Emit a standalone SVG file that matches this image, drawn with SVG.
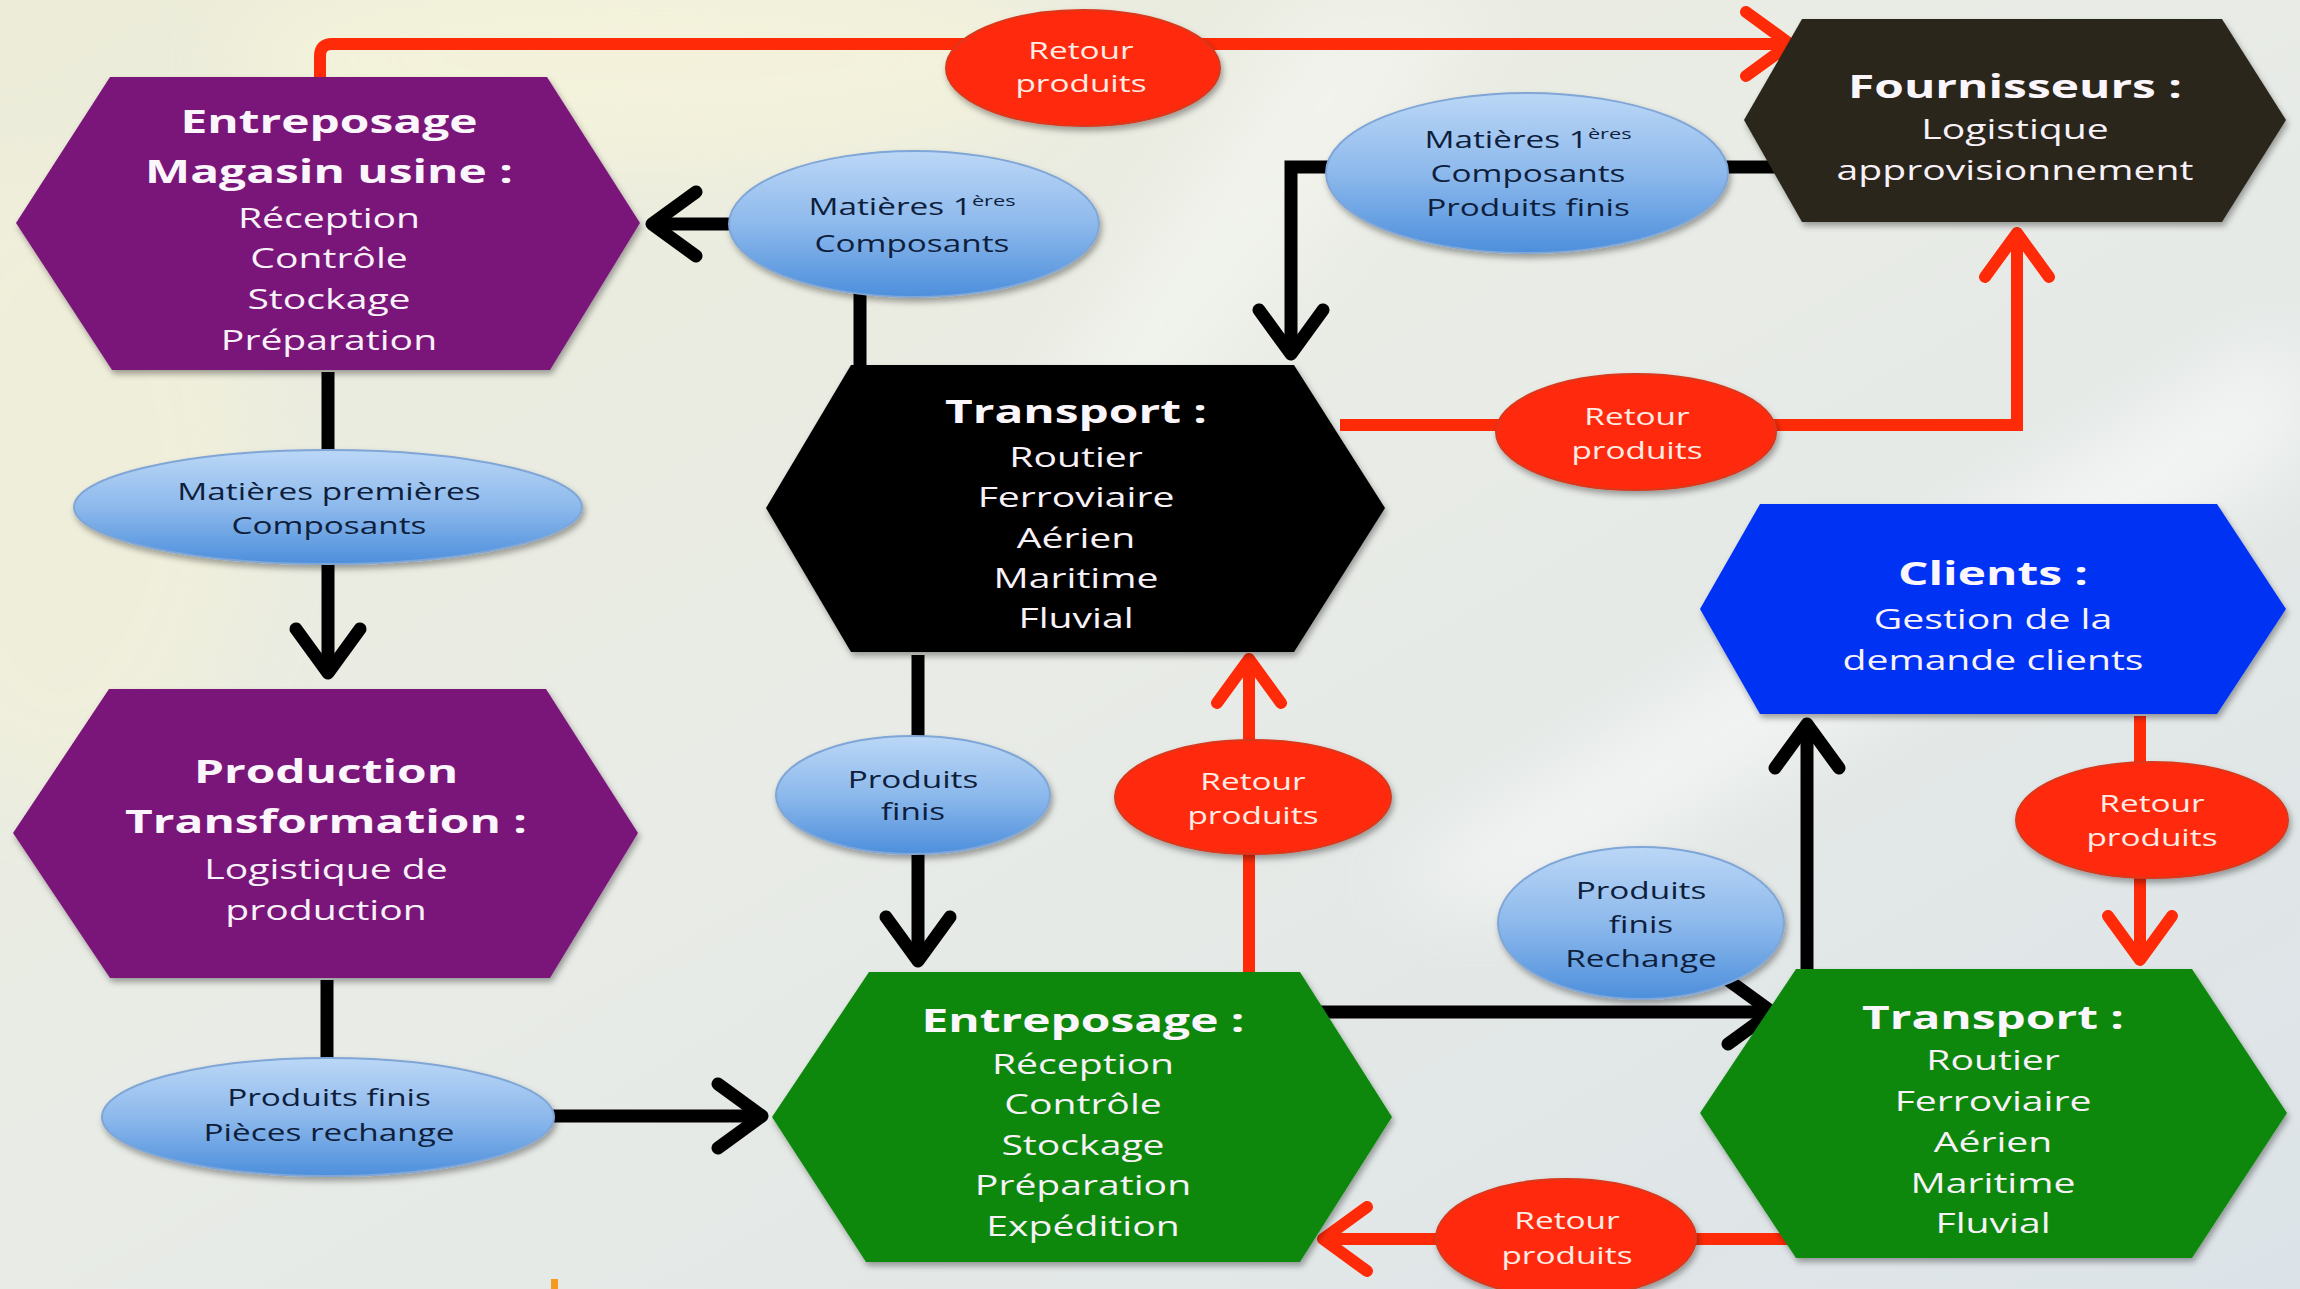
<svg xmlns="http://www.w3.org/2000/svg" width="2300" height="1289" viewBox="0 0 2300 1289">
<defs>
<linearGradient id="bg" x1="0" y1="0" x2="1" y2="1">
<stop offset="0" stop-color="#ECECD8"/>
<stop offset="0.45" stop-color="#E9ECE6"/>
<stop offset="1" stop-color="#DCE3E8"/>
</linearGradient>
<linearGradient id="blueFill" x1="0" y1="0" x2="0" y2="1">
<stop offset="0" stop-color="#BBD7F6"/>
<stop offset="0.5" stop-color="#8DB9EC"/>
<stop offset="1" stop-color="#4D8FDC"/>
</linearGradient>
<filter id="blur40" x="-50%" y="-50%" width="200%" height="200%"><feGaussianBlur stdDeviation="40"/></filter>
<filter id="shadow" x="-20%" y="-20%" width="140%" height="150%"><feDropShadow dx="2" dy="4" stdDeviation="3" flood-color="#000" flood-opacity="0.35"/></filter>
<marker id="arrK" viewBox="-60 -45 75 90" markerUnits="userSpaceOnUse" markerWidth="75" markerHeight="90" refX="0" refY="0" orient="auto" overflow="visible">
<path d="M-44 -32 L0 0 L-44 32" fill="none" stroke="#000" stroke-width="13" stroke-linecap="round" stroke-linejoin="round"/>
</marker>
<marker id="arrR" viewBox="-60 -45 75 90" markerUnits="userSpaceOnUse" markerWidth="75" markerHeight="90" refX="0" refY="0" orient="auto" overflow="visible">
<path d="M-44 -32 L0 0 L-44 32" fill="none" stroke="#FF2A08" stroke-width="12" stroke-linecap="round" stroke-linejoin="round"/>
</marker>
</defs>
<style>
.k{fill:none;stroke:#000;stroke-width:13;marker-end:url(#arrK)}
.r{fill:none;stroke:#FF2A08;stroke-width:12;marker-end:url(#arrR)}
.hex{filter:url(#shadow)}
.ttl{font-family:"Open Sans","Liberation Sans",sans-serif;font-weight:bold;font-size:33px;fill:#FBF6FB;text-anchor:middle}
.bd{font-family:"Open Sans","Liberation Sans",sans-serif;font-size:27px;fill:#F8F2F8;text-anchor:middle}
.eb{fill:url(#blueFill);stroke:#7FA6D6;stroke-width:2;filter:url(#shadow)}
.er{fill:#FF2C0A;stroke:#D8381E;stroke-width:2;filter:url(#shadow)}
.et{font-family:"Open Sans","Liberation Sans",sans-serif;font-size:23px;fill:#0E1E3C;text-anchor:middle}
.rt{font-family:"Open Sans","Liberation Sans",sans-serif;font-size:23px;fill:#FFEDE6;text-anchor:middle}
.sup{font-size:15px}
</style>

<g id="background">
<rect x="0" y="0" width="2300" height="1289" fill="url(#bg)"/>
<ellipse cx="650" cy="60" rx="420" ry="110" fill="#F7F4DA" opacity="0.7" filter="url(#blur40)"/>
<ellipse cx="60" cy="480" rx="200" ry="320" fill="#F2F0DA" opacity="0.7" filter="url(#blur40)"/>
<polygon points="2300,330 2300,450 1520,900 1380,890" fill="#FFFFFF" opacity="0.6" filter="url(#blur40)"/>
<polygon points="1300,0 1500,0 1100,500 1000,480" fill="#FFFFFF" opacity="0.35" filter="url(#blur40)"/>
<rect x="551" y="1279" width="7" height="10" fill="#F59A1E"/>
</g>

<g id="connectors">
<path class="r" d="M320 80 V56 Q320 44 332 44 H1790"/>
<path class="k" d="M860 366 V224 H652"/>
<path class="k" d="M1780 167 H1291 V354"/>
<path class="r" d="M1340 425 H2017 V233"/>
<path class="k" d="M328 372 V673"/>
<path class="k" d="M918 655 V961"/>
<path class="r" d="M1249 974 V659"/>
<path class="k" d="M327 980 V1116 H762"/>
<path class="k" d="M1320 1012 H1772"/>
<path class="k" d="M1807 970 V724"/>
<path class="r" d="M2140 716 V960"/>
<path class="r" d="M1790 1239 H1323"/>
</g>

<g id="n-entreposage-usine">
<polygon class="hex" points="110,77 547,77 640,223 550,370 112,370 16,223" fill="#7A197A"/>
<g transform="translate(329 0) scale(1.45 1)">
<text class="ttl" x="0" y="133">Entreposage</text>
<text class="ttl" x="0" y="183">Magasin usine :</text>
<text class="bd" x="0" y="228">Réception</text>
<text class="bd" x="0" y="268">Contrôle</text>
<text class="bd" x="0" y="309">Stockage</text>
<text class="bd" x="0" y="350">Préparation</text>
</g>
</g>

<g id="n-fournisseurs">
<polygon class="hex" points="1802,19 2222,19 2286,120 2222,222 1802,222 1744,120" fill="#2A281D"/>
<g transform="translate(2015 0) scale(1.45 1)">
<text class="ttl" x="0" y="98">Fournisseurs :</text>
<text class="bd" x="0" y="139">Logistique</text>
<text class="bd" x="0" y="180">approvisionnement</text>
</g>
</g>

<g id="n-transport-1">
<polygon class="hex" points="851,365 1294,365 1385,508 1294,652 851,652 766,508" fill="#000000"/>
<g transform="translate(1076 0) scale(1.45 1)">
<text class="ttl" x="0" y="423">Transport :</text>
<text class="bd" x="0" y="467">Routier</text>
<text class="bd" x="0" y="507">Ferroviaire</text>
<text class="bd" x="0" y="548">Aérien</text>
<text class="bd" x="0" y="588">Maritime</text>
<text class="bd" x="0" y="628">Fluvial</text>
</g>
</g>

<g id="n-clients">
<polygon class="hex" points="1760,504 2217,504 2286,609 2217,714 1760,714 1700,609" fill="#0633F4"/>
<g transform="translate(1993 0) scale(1.45 1)">
<text class="ttl" x="0" y="585">Clients :</text>
<text class="bd" x="0" y="629">Gestion de la</text>
<text class="bd" x="0" y="670">demande clients</text>
</g>
</g>

<g id="n-production">
<polygon class="hex" points="109,689 546,689 638,833 550,978 110,978 13,833" fill="#7A197A"/>
<g transform="translate(326 0) scale(1.45 1)">
<text class="ttl" x="0" y="783">Production</text>
<text class="ttl" x="0" y="833">Transformation :</text>
<text class="bd" x="0" y="879">Logistique de</text>
<text class="bd" x="0" y="920">production</text>
</g>
</g>

<g id="n-entreposage">
<polygon class="hex" points="869,972 1300,972 1392,1117 1300,1262 866,1262 772,1117" fill="#11880F"/>
<g transform="translate(1083 0) scale(1.45 1)">
<text class="ttl" x="0" y="1032">Entreposage :</text>
<text class="bd" x="0" y="1074">Réception</text>
<text class="bd" x="0" y="1114">Contrôle</text>
<text class="bd" x="0" y="1155">Stockage</text>
<text class="bd" x="0" y="1195">Préparation</text>
<text class="bd" x="0" y="1236">Expédition</text>
</g>
</g>

<g id="n-transport-2">
<polygon class="hex" points="1796,969 2192,969 2287,1113 2192,1258 1796,1258 1700,1113" fill="#11880F"/>
<g transform="translate(1993 0) scale(1.45 1)">
<text class="ttl" x="0" y="1029">Transport :</text>
<text class="bd" x="0" y="1070">Routier</text>
<text class="bd" x="0" y="1111">Ferroviaire</text>
<text class="bd" x="0" y="1152">Aérien</text>
<text class="bd" x="0" y="1193">Maritime</text>
<text class="bd" x="0" y="1233">Fluvial</text>
</g>
</g>

<g id="l-matieres-composants">
<ellipse class="eb" cx="914" cy="224" rx="185" ry="73"/>
<g transform="translate(912 0) scale(1.45 1)">
<text class="et" x="0" y="215">Matières 1<tspan class="sup" dy="-9">ères</tspan></text>
<text class="et" x="0" y="252">Composants</text>
</g>
</g>

<g id="l-matieres-composants-finis">
<ellipse class="eb" cx="1527" cy="173" rx="201" ry="80"/>
<g transform="translate(1528 0) scale(1.45 1)">
<text class="et" x="0" y="148">Matières 1<tspan class="sup" dy="-9">ères</tspan></text>
<text class="et" x="0" y="182">Composants</text>
<text class="et" x="0" y="216">Produits finis</text>
</g>
</g>

<g id="l-matieres-premieres">
<ellipse class="eb" cx="328" cy="507" rx="254" ry="57"/>
<g transform="translate(329 0) scale(1.45 1)">
<text class="et" x="0" y="500">Matières premières</text>
<text class="et" x="0" y="534">Composants</text>
</g>
</g>

<g id="l-produits-finis">
<ellipse class="eb" cx="913" cy="795" rx="137" ry="59"/>
<g transform="translate(913 0) scale(1.45 1)">
<text class="et" x="0" y="788">Produits</text>
<text class="et" x="0" y="820">finis</text>
</g>
</g>

<g id="l-produits-finis-rechange">
<ellipse class="eb" cx="1641" cy="923" rx="143" ry="76"/>
<g transform="translate(1641 0) scale(1.45 1)">
<text class="et" x="0" y="899">Produits</text>
<text class="et" x="0" y="933">finis</text>
<text class="et" x="0" y="967">Rechange</text>
</g>
</g>

<g id="l-produits-pieces">
<ellipse class="eb" cx="328" cy="1117" rx="226" ry="59"/>
<g transform="translate(329 0) scale(1.45 1)">
<text class="et" x="0" y="1106">Produits finis</text>
<text class="et" x="0" y="1141">Pièces rechange</text>
</g>
</g>

<g id="r-retour-1">
<ellipse class="er" cx="1083" cy="68" rx="137" ry="58"/>
<g transform="translate(1081 0) scale(1.45 1)">
<text class="rt" x="0" y="59">Retour</text>
<text class="rt" x="0" y="92">produits</text>
</g>
</g>

<g id="r-retour-2">
<ellipse class="er" cx="1636" cy="432" rx="140" ry="58"/>
<g transform="translate(1637 0) scale(1.45 1)">
<text class="rt" x="0" y="425">Retour</text>
<text class="rt" x="0" y="459">produits</text>
</g>
</g>

<g id="r-retour-3">
<ellipse class="er" cx="1253" cy="797" rx="138" ry="57"/>
<g transform="translate(1253 0) scale(1.45 1)">
<text class="rt" x="0" y="790">Retour</text>
<text class="rt" x="0" y="824">produits</text>
</g>
</g>

<g id="r-retour-4">
<ellipse class="er" cx="2152" cy="820" rx="136" ry="58"/>
<g transform="translate(2152 0) scale(1.45 1)">
<text class="rt" x="0" y="812">Retour</text>
<text class="rt" x="0" y="846">produits</text>
</g>
</g>

<g id="r-retour-5">
<ellipse class="er" cx="1566" cy="1238" rx="130" ry="59"/>
<g transform="translate(1567 0) scale(1.45 1)">
<text class="rt" x="0" y="1229">Retour</text>
<text class="rt" x="0" y="1264">produits</text>
</g>
</g>
</svg>
